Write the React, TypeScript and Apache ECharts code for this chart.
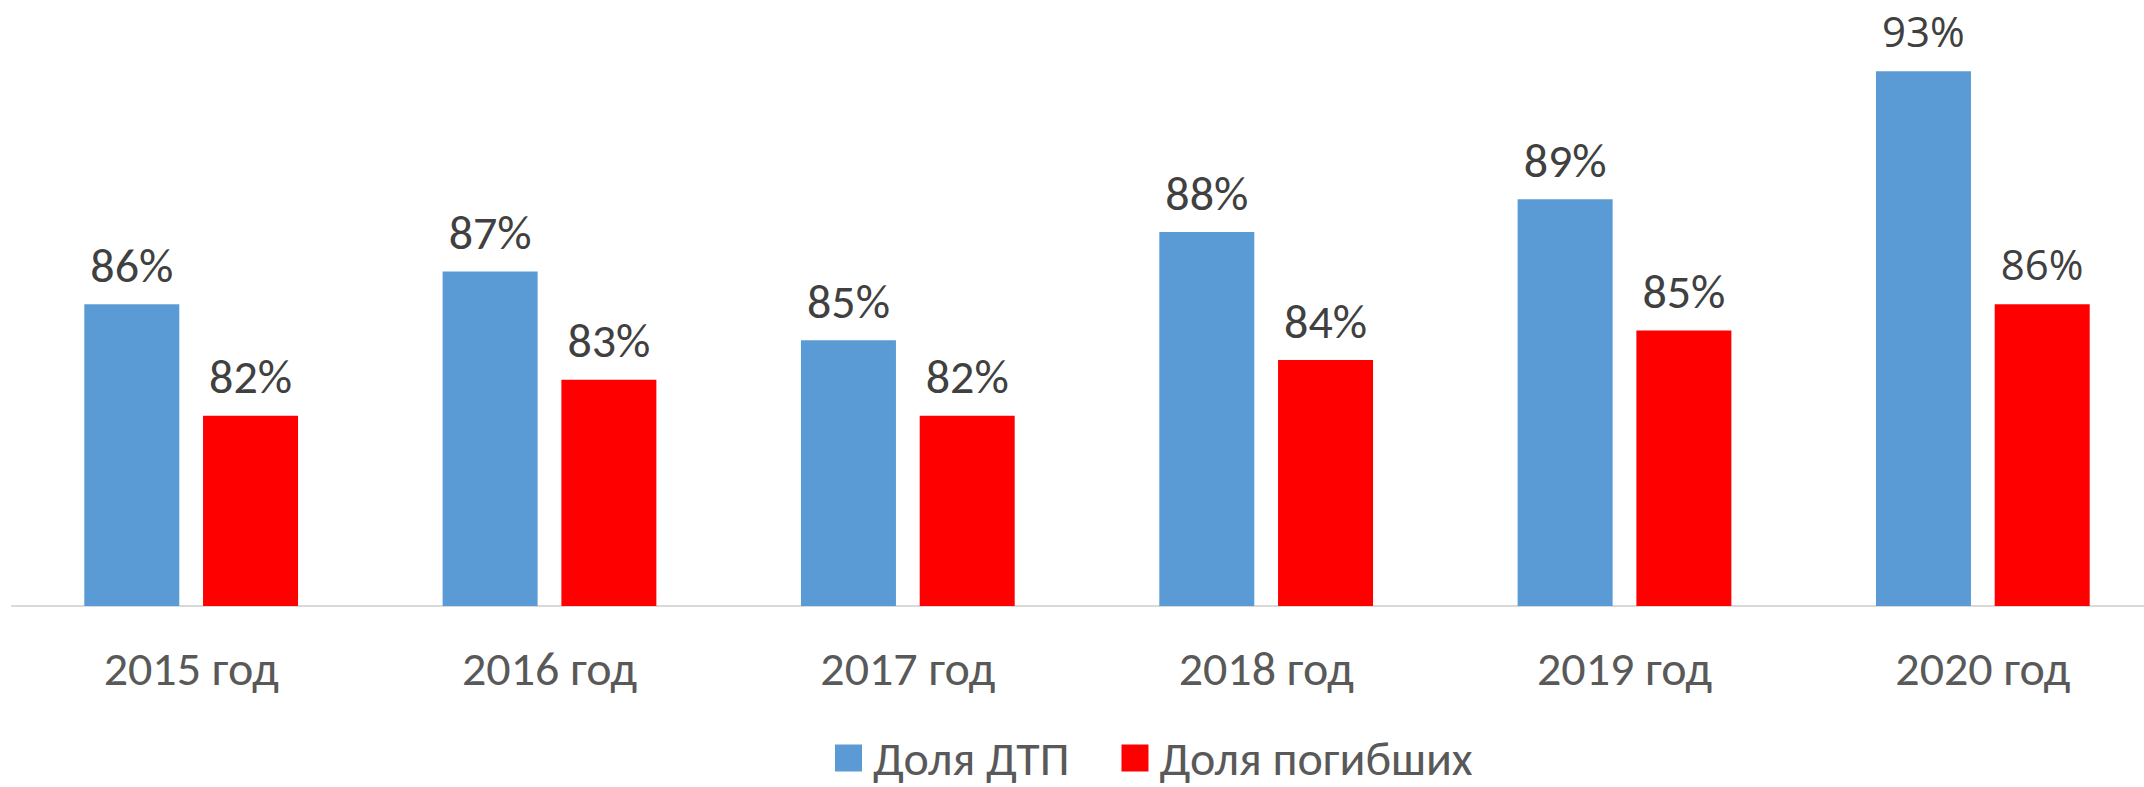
import React, { useEffect, useRef } from "react";
import * as echarts from "echarts";

const categories = ["2015 год", "2016 год", "2017 год", "2018 год", "2019 год", "2020 год"];
const shareAccidents = [0.857, 0.867, 0.846, 0.879, 0.889, 0.928];
const shareDeaths = [0.823, 0.834, 0.823, 0.840, 0.849, 0.857];
const seriesNames = ["Доля ДТП", "Доля погибших"];

const FONT = 'Carlito, "Liberation Sans Narrow", Roboto, sans-serif';
const FONT2 = '"Open Sans", "Noto Sans", sans-serif';

export default function App() {
  const ref = useRef<HTMLDivElement>(null);
  useEffect(() => {
    document.body.style.margin = "0";
    document.body.style.overflow = "hidden";
    const chart = echarts.init(ref.current!, undefined, { renderer: "svg" });
    const label = {
      show: true,
      position: "top",
      distance: 15,
      color: "#404040",
      fontSize: 48,
      fontFamily: FONT,
      formatter: (p: any) => Math.round(p.value * 100) + "%",
    };
    const build = (arr: number[]) =>
      arr.map((v, i) =>
        i === arr.length - 1
          ? { value: v, label: { fontFamily: FONT2, fontSize: 42, distance: 20 } }
          : v
      );
    chart.setOption({
      animation: false,
      backgroundColor: "#ffffff",
      textStyle: { fontFamily: FONT },
      grid: { left: 12, right: 0, top: 32, bottom: 181, containLabel: false },
      legend: {
        left: 830,
        top: 729,
        itemWidth: 27,
        itemHeight: 27,
        itemGap: 52,
        icon: "rect",
        textStyle: { fontSize: 48, lineHeight: 48, color: "#595959", fontFamily: FONT, padding: [0, 0, 0, 6] },
        data: seriesNames,
      },
      xAxis: {
        type: "category",
        data: categories,
        axisLine: { show: true, lineStyle: { color: "#d9d9d9", width: 2 } },
        axisTick: { show: false },
        axisLabel: { color: "#595959", fontSize: 48, fontFamily: FONT, margin: 38, lineHeight: 48 },
      },
      yAxis: {
        type: "value",
        min: 0.765,
        max: 0.94,
        show: false,
        splitLine: { show: false },
      },
      series: [
        {
          name: seriesNames[0],
          type: "bar",
          data: build(shareAccidents),
          barWidth: 95,
          barGap: "25%",
          itemStyle: { color: "#5B9BD5" },
          label,
        },
        {
          name: seriesNames[1],
          type: "bar",
          data: build(shareDeaths),
          barWidth: 95,
          barGap: "25%",
          itemStyle: { color: "#FF0000" },
          label,
        },
      ],
    });
    return () => chart.dispose();
  }, []);
  return <div ref={ref} style={{ width: 2162, height: 787 }} />;
}
